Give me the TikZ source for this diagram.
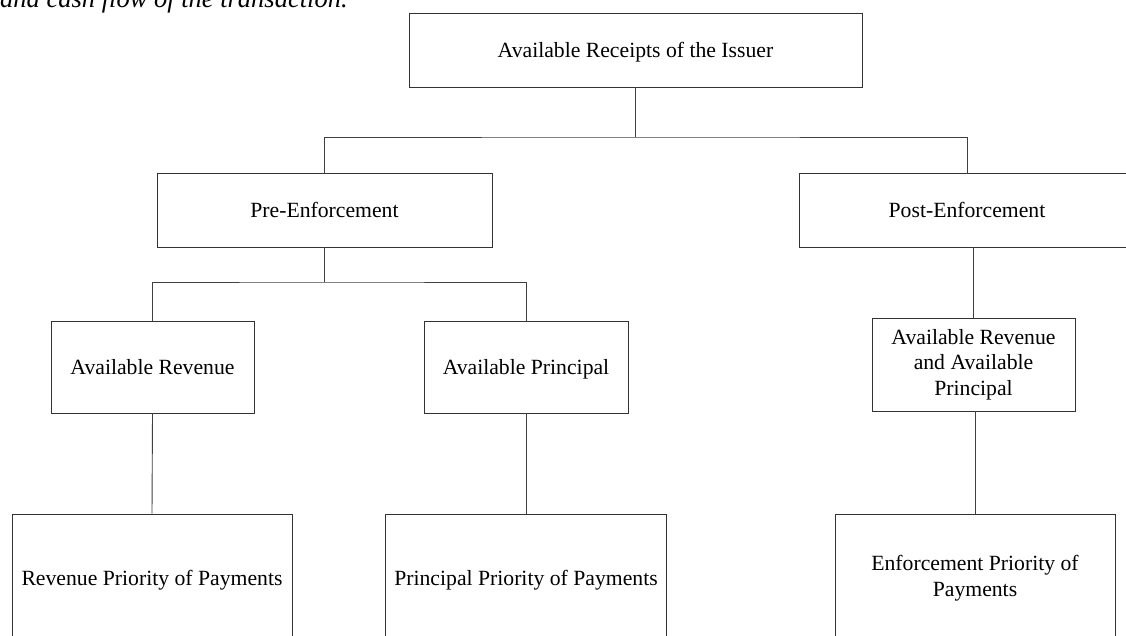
\documentclass[tikz,border=0pt]{standalone}
\usepackage{fontspec}
\setmainfont{Liberation Serif}
\usepackage{tikz}
\usetikzlibrary{calc}

\begin{document}
\begin{tikzpicture}[x=1pt,y=-1pt,
  box/.style={draw=black!80,line width=0.9pt,inner sep=0pt,align=center,
    font=\fontsize{21.7}{25.5}\selectfont},
  oneline/.style={text height=15.5pt,text depth=0pt},
  link/.style={draw=black!75,line width=0.9pt}]
  % Page frame, the figure runs off the bottom and right edges
  \useasboundingbox (0,0) rectangle (1126,635);
  \clip (0,0) rectangle (1126,635);

  % Last line of the caption, cut off at the top
  \node[anchor=base west,inner sep=0pt,font=\fontsize{26.5}{30}\selectfont\itshape] (capt) at (0,7) {and cash flow of the transaction.};

  % Define centres of the boxes
  \coordinate (R) at (635.5,50); % Receipts
  \coordinate (P) at (324.5,210); % Pre-Enforcement
  \coordinate (Q) at (967,210); % Post-Enforcement
  \coordinate (AR) at (152.5,367); % Available Revenue
  \coordinate (AP) at (526,367); % Available Principal
  \coordinate (AB) at (973.5,362.5); % both
  \coordinate (PR) at (152,578); % priorities of payments
  \coordinate (PP) at (526,578);
  \coordinate (PE) at (975,578);

  % Split points of the connectors
  \coordinate (S1) at (635.5,137);
  \coordinate (S2) at (324.5,282);

  % Draw boxes
  \node[box,oneline,minimum width=453pt,minimum height=74pt] (rcpt) at (R) {Available Receipts of the Issuer};
  \node[box,oneline,minimum width=335pt,minimum height=74pt] (pre) at (P) {Pre-Enforcement};
  \node[box,oneline,minimum width=336pt,minimum height=74pt] (post) at (Q) {Post-Enforcement};
  \node[box,oneline,minimum width=203pt,minimum height=92pt] (avrev) at (AR) {Available Revenue};
  \node[box,oneline,minimum width=204pt,minimum height=92pt] (avprin) at (AP) {Available Principal};
  \node[box,minimum width=203pt,minimum height=93pt] (avboth) at ($(AB)+(0,2)$) {Available Revenue\\and Available\\Principal};
  \node[box,oneline,minimum width=280pt,minimum height=128pt] (revpop) at (PR) {Revenue Priority of Payments};
  \node[box,oneline,minimum width=281pt,minimum height=128pt] (prinpop) at (PP) {Principal Priority of Payments};
  \node[box,minimum width=280pt,minimum height=128pt] (enfpop) at (PE) {Enforcement Priority of\\Payments};

  % Draw connectors
  \draw[link] (rcpt.south) -- (S1);
  \draw[link] (pre.north) |- (S1) -| (post.north);
  \draw[link] (pre.south) -- (S2);
  \draw[link] (avrev.north) |- (S2) -| (avprin.north);
  \draw[link] (avrev.south) -- (revpop.north);
  \draw[link] (avprin.south) -- (prinpop.north);
  \draw[link] (post.south -| avboth.north) -- (avboth.north);
  \draw[link] (enfpop.north) -- (avboth.south -| enfpop.north);

\end{tikzpicture}
\end{document}
